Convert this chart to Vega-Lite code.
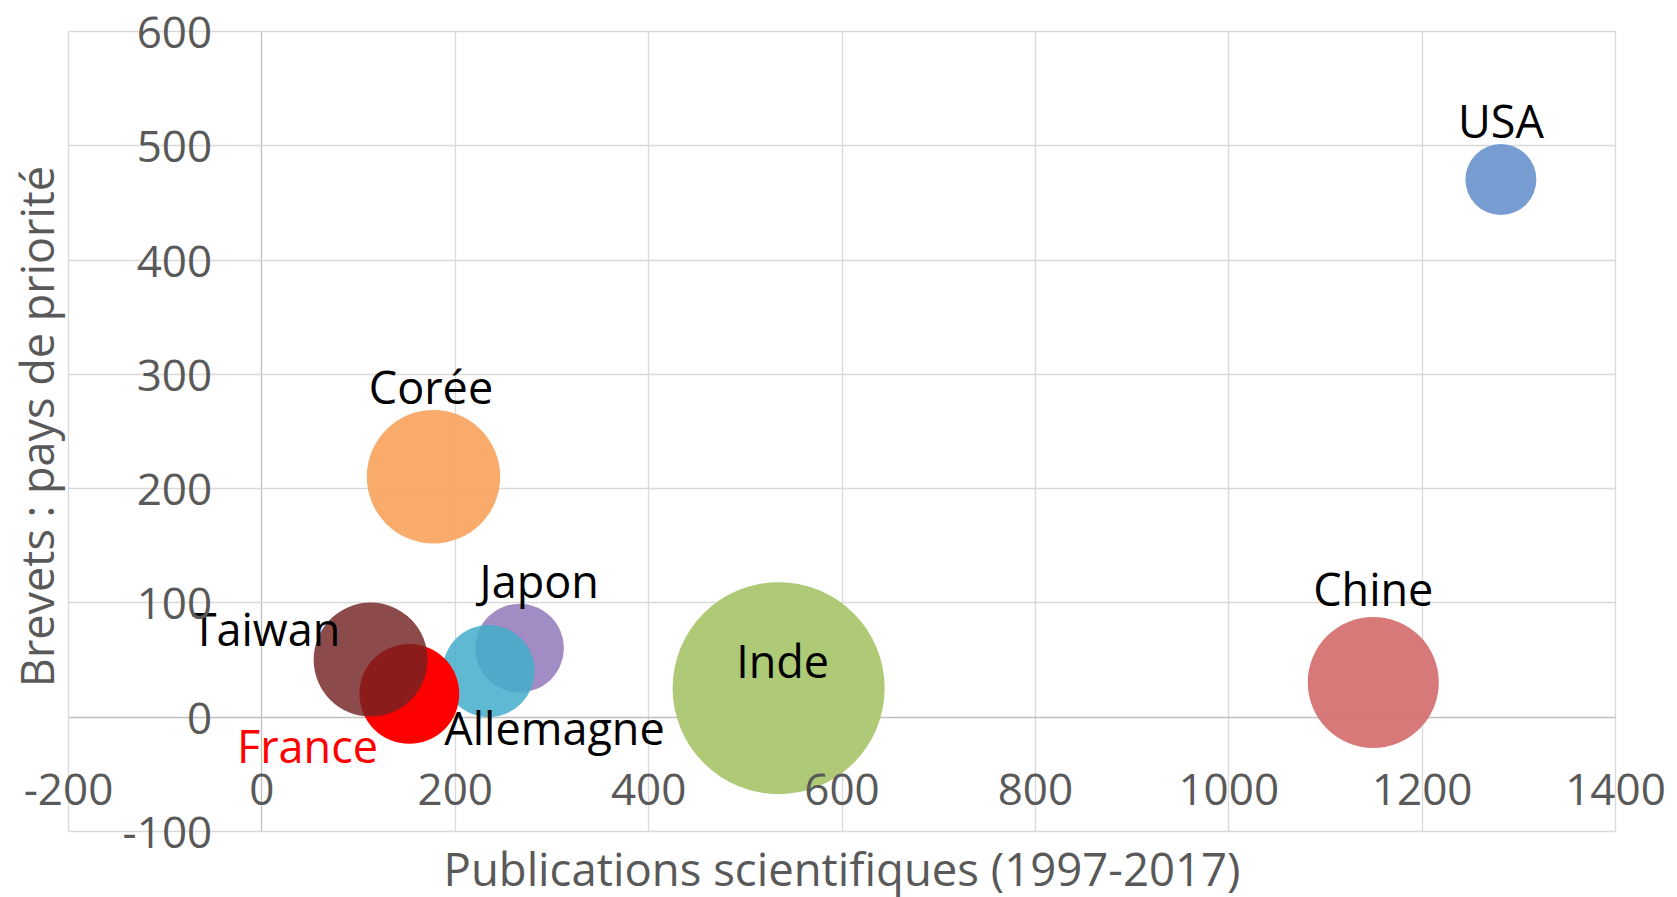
{
  "$schema": "https://vega.github.io/schema/vega-lite/v6.json",
  "width": 1547,
  "height": 800,
  "autosize": {"type": "none"},
  "padding": {"left": 68, "top": 31, "right": 62, "bottom": 66},
  "background": "white",
  "config": {"view": {"stroke": null}, "font": "Open Sans", "text": {"font": "Open Sans"}},
  "data": {
    "values": [
      {"pays": "Japon", "publications": 267, "brevets": 60, "taille": 17.5},
      {"pays": "Allemagne", "publications": 235, "brevets": 40, "taille": 18.8},
      {"pays": "France", "publications": 153, "brevets": 20, "taille": 22.2},
      {"pays": "Taiwan", "publications": 113, "brevets": 50, "taille": 28.9},
      {"pays": "Corée", "publications": 178, "brevets": 210, "taille": 39.6},
      {"pays": "Inde", "publications": 535, "brevets": 25, "taille": 100},
      {"pays": "Chine", "publications": 1150, "brevets": 30, "taille": 38.2},
      {"pays": "USA", "publications": 1282, "brevets": 470, "taille": 11.2}
    ]
  },
  "resolve": {"axis": {"x": "independent", "y": "independent"}},
  "layer": [
    {
      "mark": {"type": "circle"},
      "encoding": {
        "x": {
          "field": "publications", "type": "quantitative",
          "scale": {"domain": [-200, 1400], "nice": false, "zero": false},
          "axis": {
            "orient": "bottom", "zindex": 0, "grid": true, "labels": false, "ticks": false, "domain": false, "title": null,
            "values": [-200, 0, 200, 400, 600, 800, 1000, 1200, 1400],
            "gridColor": {"condition": {"test": "datum.value === 0", "value": "#bfbfbf"}, "value": "#d9d9d9"},
            "gridWidth": 1.3
          }
        },
        "y": {
          "field": "brevets", "type": "quantitative",
          "scale": {"domain": [-100, 600], "nice": false, "zero": false},
          "axis": {
            "orient": "left", "zindex": 0, "grid": true, "labels": false, "ticks": false, "domain": false, "title": null,
            "values": [-100, 0, 100, 200, 300, 400, 500, 600],
            "gridColor": {"condition": {"test": "datum.value === 0", "value": "#bfbfbf"}, "value": "#d9d9d9"},
            "gridWidth": 1.3
          }
        },
        "size": {"field": "taille", "type": "quantitative", "scale": {"type": "linear", "domain": [0, 100], "range": [0, 44944]}, "legend": null},
        "color": {
          "field": "pays", "type": "nominal",
          "scale": {
            "domain": ["USA", "Chine", "Inde", "Corée", "Japon", "Allemagne", "Taiwan", "France"],
            "range": ["#6c95cd", "#d46f6f", "#a8c66c", "#f7a55f", "#9b83c0", "#43adca", "#732222", "#ff0000"]
          },
          "legend": null
        },
        "opacity": {
          "condition": [
            {"test": "datum.pays === 'Taiwan'", "value": 0.82},
            {"test": "datum.pays === 'Allemagne'", "value": 0.85},
            {"test": "datum.pays === 'France'", "value": 1}
          ],
          "value": 0.93
        }
      }
    },
    {
      "encoding": {
        "x": {
          "field": "publications", "type": "quantitative",
          "axis": {
            "orient": "bottom", "zindex": 1, "grid": false, "domain": false, "ticks": false, "tickSize": 0,
            "values": [-200, 0, 200, 400, 600, 800, 1000, 1200, 1400],
            "labelExpr": "'' + datum.value",
            "labelPadding": -27, "labelBaseline": "alphabetic", "labelFontSize": 44, "labelColor": "#595959", "labelFont": "Open Sans",
            "labelOverlap": false, "labelFlush": false, "labelBound": false,
            "title": "Publications scientifiques (1997-2017)", "titleFont": "Open Sans", "titleFontSize": 45.5, "titleFontWeight": "normal",
            "titleColor": "#595959", "titleX": 773.5, "titleY": 54, "titleAlign": "center", "titleBaseline": "alphabetic"
          }
        },
        "y": {
          "field": "brevets", "type": "quantitative",
          "axis": {
            "orient": "left", "zindex": 1, "grid": false, "domain": false, "ticks": false, "tickSize": 0,
            "values": [-100, 0, 100, 200, 300, 400, 500, 600],
            "labelExpr": "'' + datum.value",
            "labelPadding": -143.7, "labelAlign": "right", "labelBaseline": "alphabetic", "labelOffset": 16.5,
            "labelFontSize": 44, "labelColor": "#595959", "labelFont": "Open Sans",
            "labelOverlap": false, "labelFlush": false, "labelBound": false,
            "title": "Brevets : pays de priorité", "titleFont": "Open Sans", "titleFontSize": 45, "titleFontWeight": "normal",
            "titleColor": "#595959", "titleAngle": 270, "titleX": -14.5, "titleY": 395, "titleAlign": "center", "titleBaseline": "alphabetic"
          }
        },
        "text": {"field": "pays", "type": "nominal"}
      },
      "layer": [
        {"transform": [{"filter": "datum.pays === 'USA'"}], "mark": {"type": "text", "align": "center", "baseline": "alphabetic", "dx": 0, "dy": -42, "fontSize": 45, "color": "#000000"}},
        {"transform": [{"filter": "datum.pays === 'Chine'"}], "mark": {"type": "text", "align": "center", "baseline": "alphabetic", "dx": 0, "dy": -76, "fontSize": 45, "color": "#000000"}},
        {"transform": [{"filter": "datum.pays === 'Corée'"}], "mark": {"type": "text", "align": "center", "baseline": "alphabetic", "dx": -2.5, "dy": -72.7, "fontSize": 45, "color": "#000000"}},
        {"transform": [{"filter": "datum.pays === 'Japon'"}], "mark": {"type": "text", "align": "center", "baseline": "alphabetic", "dx": 19.7, "dy": -49.8, "fontSize": 45, "color": "#000000"}},
        {"transform": [{"filter": "datum.pays === 'Inde'"}], "mark": {"type": "text", "align": "center", "baseline": "alphabetic", "dx": 4, "dy": -10, "fontSize": 45, "color": "#000000"}},
        {"transform": [{"filter": "datum.pays === 'Taiwan'"}], "mark": {"type": "text", "align": "right", "baseline": "alphabetic", "dx": -30.3, "dy": -13.3, "fontSize": 45, "color": "#000000"}},
        {"transform": [{"filter": "datum.pays === 'France'"}], "mark": {"type": "text", "align": "right", "baseline": "alphabetic", "dx": -31.3, "dy": 69.3, "fontSize": 45, "color": "#ff0000"}},
        {"transform": [{"filter": "datum.pays === 'Allemagne'"}], "mark": {"type": "text", "align": "left", "baseline": "alphabetic", "dx": -44.3, "dy": 74.2, "fontSize": 45, "color": "#000000"}}
      ]
    }
  ]
}
